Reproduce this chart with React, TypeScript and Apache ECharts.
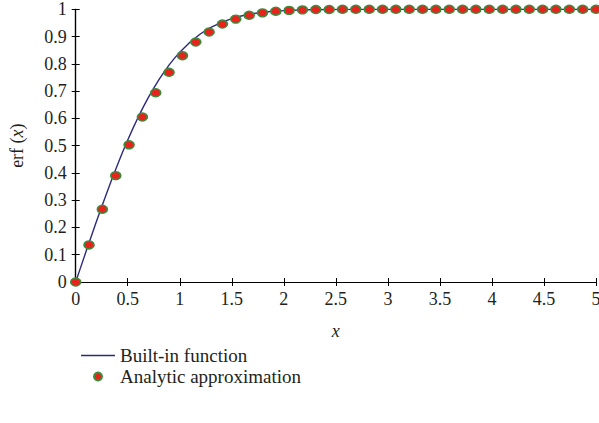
import React, { useEffect, useRef } from "react";
import * as echarts from "echarts";

// Built-in erf curve, read at these x positions
const curveX = [
  0, 0.05, 0.1, 0.15, 0.2, 0.25, 0.3, 0.35, 0.4, 0.45, 0.5, 0.55, 0.6, 0.65, 0.7,
  0.75, 0.8, 0.85, 0.9, 0.95, 1.0, 1.1, 1.2, 1.3, 1.4, 1.5, 1.6, 1.7, 1.8, 1.9,
  2.0, 2.2, 2.4, 2.6, 3.0, 5.0,
];
const curveY = [
  0, 0.0564, 0.1125, 0.168, 0.2227, 0.2763, 0.3286, 0.3794, 0.4284, 0.4755, 0.5205,
  0.5633, 0.6039, 0.642, 0.6778, 0.7112, 0.7421, 0.7707, 0.7969, 0.8209, 0.8427,
  0.8802, 0.9103, 0.934, 0.9523, 0.9661, 0.9763, 0.9838, 0.9891, 0.9928, 0.9953,
  0.9981, 0.9993, 0.9998, 1, 1,
];

// Analytic approximation markers
const pointX = [
  0, 0.128, 0.256, 0.385, 0.513, 0.641, 0.769, 0.897, 1.026, 1.154,
  1.282, 1.41, 1.538, 1.667, 1.795, 1.923, 2.051, 2.179, 2.308, 2.436,
  2.564, 2.692, 2.821, 2.949, 3.077, 3.205, 3.333, 3.462, 3.59, 3.718,
  3.846, 3.974, 4.103, 4.231, 4.359, 4.487, 4.615, 4.744, 4.872, 5,
];
const pointY = [
  0, 0.136, 0.267, 0.39, 0.503, 0.605, 0.694, 0.769, 0.83, 0.88,
  0.917, 0.946, 0.964, 0.978, 0.987, 0.993, 0.996, 0.998, 0.999, 0.9995,
  1, 1, 1, 1, 1, 1, 1, 1, 1, 1,
  1, 1, 1, 1, 1, 1, 1, 1, 1, 1,
];

const xTicks = ["0", "0.5", "1", "1.5", "2", "2.5", "3", "3.5", "4", "4.5", "5"];
const yTicks = ["0", "0.1", "0.2", "0.3", "0.4", "0.5", "0.6", "0.7", "0.8", "0.9", "1"];

const FONT = "Liberation Serif";
const TXT = "#231f20";
const LINE = "#2b2a7e";

export default function App() {
  const ref = useRef<HTMLDivElement>(null);
  useEffect(() => {
    if (!ref.current) return;
    const chart = echarts.init(ref.current, null, { renderer: "svg" });
    const axisCommon = {
      axisLine: { show: true, lineStyle: { color: "#000", width: 1.2 } },
      axisTick: { show: true, inside: true, length: 4, lineStyle: { color: "#000" } },
      splitLine: { show: false },
    };
    chart.setOption({
      animation: false,
      grid: { left: 75.7, right: 3, top: 9.3, bottom: 141, outerBoundsMode: "none", containLabel: false },
      legend: {
        orient: "vertical",
        left: 76,
        top: 341,
        itemWidth: 34,
        itemHeight: 8,
        itemGap: 2,
        symbolKeepAspect: true,
        textStyle: { fontFamily: FONT, fontSize: 19, color: TXT },
        data: [
          {
            name: "Built-in function",
            icon: "path://M0,0H34V1.3H0Z",
            itemStyle: { color: LINE },
          },
          { name: "Analytic approximation", icon: "circle" },
        ],
      },
      xAxis: [
        {
          type: "value",
          min: 0,
          max: 5,
          interval: 0.5,
          ...axisCommon,
          axisLabel: {
            fontFamily: FONT,
            fontSize: 18,
            color: TXT,
            margin: 8,
            formatter: (v: number) => xTicks[Math.round(v * 2)] ?? "",
          },
          name: "x",
          nameLocation: "middle",
          nameGap: 40,
          nameTextStyle: { fontFamily: FONT, fontSize: 18, fontStyle: "italic", color: TXT },
        },
        {
          type: "value",
          position: "top",
          min: 0,
          max: 5,
          interval: 0.5,
          ...axisCommon,
          axisLabel: { show: false },
        },
      ],
      yAxis: [
        {
          type: "value",
          min: 0,
          max: 1,
          interval: 0.1,
          ...axisCommon,
          axisLabel: {
            fontFamily: FONT,
            fontSize: 18,
            color: TXT,
            margin: 9,
            formatter: (v: number) => yTicks[Math.round(v * 10)] ?? "",
          },
          name: "erf ({i|x})",
          nameLocation: "middle",
          nameGap: 50,
          nameRotate: 90,
          nameTextStyle: {
            fontFamily: FONT,
            fontSize: 18,
            color: TXT,
            rich: {
              i: { fontFamily: FONT, fontSize: 18, fontStyle: "italic", color: TXT },
            },
          },
        },
        {
          type: "value",
          position: "right",
          min: 0,
          max: 1,
          interval: 0.1,
          ...axisCommon,
          axisLabel: { show: false },
        },
      ],
      series: [
        {
          name: "Built-in function",
          type: "line",
          data: curveX.map((x, i) => [x, curveY[i]]),
          symbol: "none",
          lineStyle: { color: LINE, width: 1.4 },
          itemStyle: { color: LINE },
          z: 2,
        },
        {
          name: "Analytic approximation",
          type: "scatter",
          data: pointX.map((x, i) => [x, pointY[i]]),
          symbol: "circle",
          symbolSize: [10, 8],
          itemStyle: { color: "#e8231e", borderColor: "#3b8c3c", borderWidth: 1.5, opacity: 1 },
          z: 3,
        },
      ],
    });
    return () => chart.dispose();
  }, []);
  return <div ref={ref} style={{ width: 599, height: 423, position: "absolute", left: 0, top: 0 }} />;
}
